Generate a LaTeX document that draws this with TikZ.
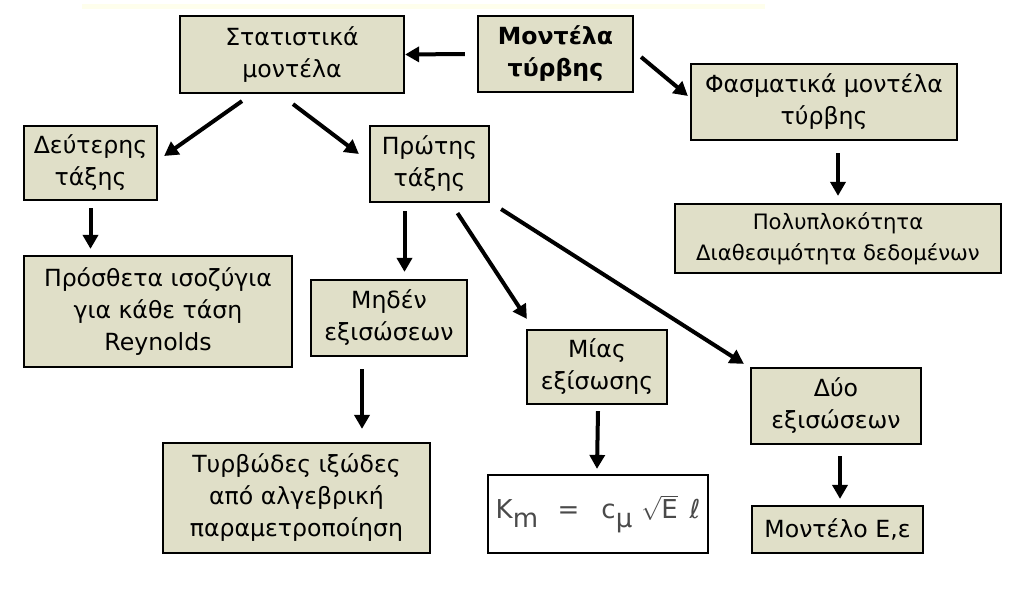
\documentclass[tikz,border=0pt]{standalone}
\usepackage{fontspec}
\setmainfont{DejaVu Sans}
\definecolor{boxfill}{HTML}{E0DFC8}
\definecolor{stripyellow}{HTML}{FEFEEC}
\definecolor{formulagray}{HTML}{4A4A4A}
\usepackage{tikz}
\usetikzlibrary{arrows.meta}

\tikzset{
  modelbox/.style={draw=black, line width=1.1pt, fill=boxfill, align=center,
    inner sep=0pt, font=\fontsize{11.8}{16}\selectfont},
  flow/.style={-{Triangle[length=7pt,width=7.5pt]}, line width=2pt}
}

\begin{document}
\begin{tikzpicture}[x=0.5pt, y=-0.5pt]
      \useasboundingbox (0,0) rectangle (1024,590);

      % Faint strip on top
      \fill[stripyellow] (82,4) rectangle (765,9);

      % Top row
      \node[modelbox, minimum width=112pt, minimum height=38.5pt] (stat) at (292,54.5) {Στατιστικά\\μοντέλα};
      \node[modelbox, minimum width=77.5pt, minimum height=38pt, font=\fontsize{11.8}{16}\selectfont\bfseries] (turb) at (555.5,54) {Μοντέλα\\τύρβης};
      \node[modelbox, minimum width=133pt, minimum height=38pt] (spec) at (824,102) {Φασματικά μοντέλα\\τύρβης};

      % Order of closure
      \node[modelbox, minimum width=66.5pt, minimum height=37pt] (second) at (90.5,163) {Δεύτερης\\τάξης};
      \node[modelbox, minimum width=59.5pt, minimum height=38pt] (first) at (429.5,164) {Πρώτης\\τάξης};
      \node[modelbox, minimum width=163pt, minimum height=34.5pt, font=\fontsize{10.6}{15.5}\selectfont] (compl) at (838,238.5) {Πολυπλοκότητα\\Διαθεσιμότητα δεδομένων};

      % Number of equations
      \node[modelbox, minimum width=134pt, minimum height=55.5pt] (reyn) at (158,311.5) {Πρόσθετα ισοζύγια\\για κάθε τάση\\Reynolds};
      \node[modelbox, minimum width=78pt, minimum height=38pt] (zero) at (389,318) {Μηδέν\\εξισώσεων};
      \node[modelbox, minimum width=70pt, minimum height=37pt] (one) at (597,367) {Μίας\\εξίσωσης};
      \node[modelbox, minimum width=85pt, minimum height=38pt] (two) at (836,406) {Δύο\\εξισώσεων};

      % Bottom row
      \node[modelbox, minimum width=133.5pt, minimum height=55pt] (visc) at (296.5,498) {Τυρβώδες ιξώδες\\από αλγεβρική\\παραμετροποίηση};
      \node[modelbox, fill=white, minimum width=110pt, minimum height=39pt, font=\fontsize{13}{15}\selectfont, text=formulagray] (form) at (598,514)
        {K\raisebox{-0.6ex}{m}\hspace{0.75em}=\hspace{0.85em}c\raisebox{-0.6ex}{μ}\hspace{0.35em}$\sqrt{\mbox{E}}$\hspace{0.45em}ℓ};
      \node[modelbox, minimum width=85.5pt, minimum height=23.5pt] (keps) at (837.5,529.5) {Μοντέλο Ε,ε};

      % Arrows
      \draw[flow] ([xshift=-6pt]turb.west) -- (stat.east);
      \draw[flow] ([xshift=3.5pt,yshift=-1.5pt]turb.east) -- ([xshift=-1pt,yshift=3pt]spec.west);
      \draw[flow] ([xshift=-25pt,yshift=-3.5pt]stat.south) -- ([xshift=3pt,yshift=3.5pt]second.east);
      \draw[flow] ([xshift=0.5pt,yshift=-5pt]stat.south) -- ([xshift=-5pt,yshift=5pt]first.west);
      \draw[flow] ([yshift=-3.5pt]second.south) -- ([yshift=3pt]second.south |- reyn.north);
      \draw[flow] ([xshift=-12.5pt,yshift=-4pt]first.south) -- ([xshift=-12.5pt,yshift=3.5pt]first.south |- zero.north);
      \draw[flow] ([xshift=14pt,yshift=-5pt]first.south) -- ([xshift=0.5pt,yshift=5pt]one.north west);
      \draw[flow] ([xshift=5.5pt,yshift=-3pt]first.south east) -- ([xshift=-3pt,yshift=1.5pt]two.north west);
      \draw[flow] ([xshift=7pt,yshift=-6pt]spec.south) -- ([yshift=3.5pt]compl.north);
      \draw[flow] ([xshift=-13.5pt,yshift=-6pt]zero.south) -- ([xshift=-13.5pt,yshift=6.5pt]zero.south |- visc.north);
      \draw[flow] ([xshift=0.5pt,yshift=-3pt]one.south) -- ([yshift=2.5pt]one.south |- form.north);
      \draw[flow] ([xshift=2pt,yshift=-5.5pt]two.south) -- ([xshift=2pt,yshift=3pt]two.south |- keps.north);
    \end{tikzpicture}
\end{document}
